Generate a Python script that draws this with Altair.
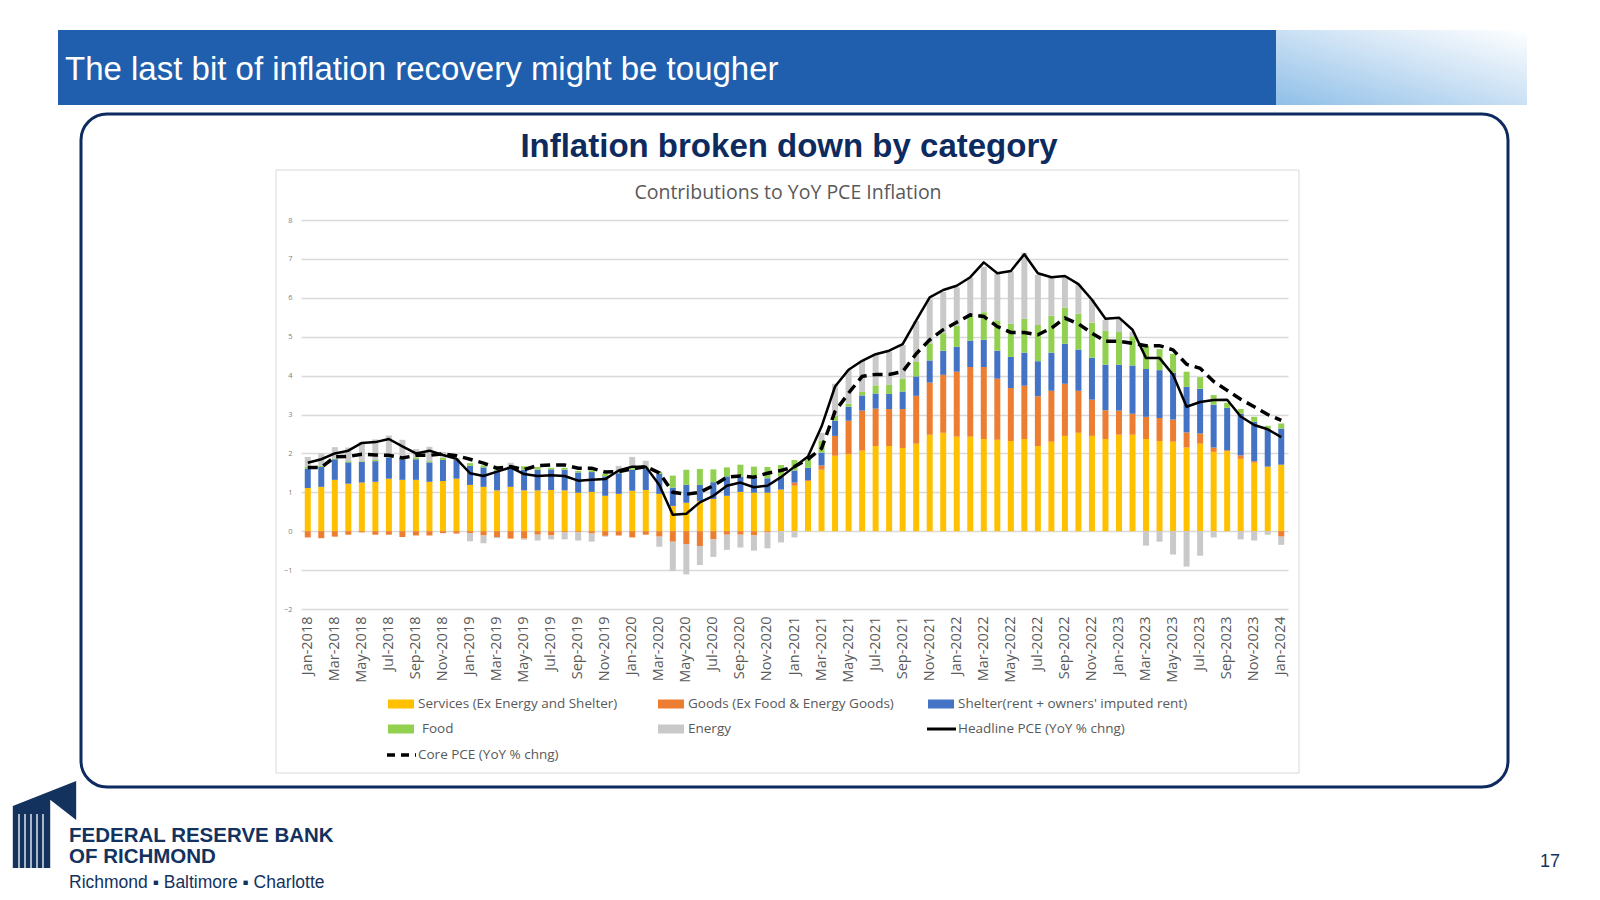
import altair as alt
import pandas as pd

# ---------------------------------------------------------------- data
MON = ["Jan", "Feb", "Mar", "Apr", "May", "Jun",
       "Jul", "Aug", "Sep", "Oct", "Nov", "Dec"]
months = [f"{m}-{y}" for y in range(2018, 2024) for m in MON] + ["Jan-2024"]

services = [
    1.11, 1.14, 1.32, 1.22, 1.25, 1.27, 1.35, 1.32, 1.32, 1.27, 1.29, 1.35,
    1.19, 1.14, 1.05, 1.14, 1.05, 1.05, 1.06, 1.05, 0.99, 1.01, 0.91, 0.96,
    1.04, 1.06, 0.96, 0.65, 0.73, 0.78, 0.83, 0.91, 1.01, 0.99, 0.99, 1.07,
    1.17, 1.29, 1.58, 1.94, 1.98, 2.07, 2.19, 2.19, 2.14, 2.25, 2.48, 2.53,
    2.43, 2.43, 2.37, 2.35, 2.32, 2.37, 2.19, 2.30, 2.45, 2.53, 2.45, 2.37,
    2.48, 2.48, 2.37, 2.32, 2.30, 2.15, 2.25, 2.04, 2.06, 1.86, 1.76, 1.66,
    1.71]
goods = [
    -0.16, -0.18, -0.14, -0.09, -0.03, -0.09, -0.09, -0.15, -0.11, -0.11, -0.05, -0.06,
    -0.05, -0.11, -0.15, -0.19, -0.19, -0.09, -0.11, -0.03, -0.03, -0.06, -0.12, -0.11,
    -0.16, -0.09, -0.14, -0.27, -0.33, -0.38, -0.21, -0.09, -0.09, -0.11, -0.03, 0.00,
    0.08, 0.02, 0.11, 0.51, 0.86, 1.03, 0.96, 0.95, 1.00, 1.23, 1.34, 1.49,
    1.67, 1.79, 1.85, 1.57, 1.36, 1.37, 1.28, 1.31, 1.34, 1.08, 0.93, 0.74,
    0.62, 0.54, 0.57, 0.59, 0.57, 0.39, 0.26, 0.11, 0.02, 0.09, 0.04, 0.00,
    -0.14]
shelter = [
    0.50, 0.51, 0.53, 0.55, 0.53, 0.53, 0.55, 0.53, 0.53, 0.50, 0.54, 0.49,
    0.49, 0.50, 0.51, 0.52, 0.53, 0.53, 0.53, 0.53, 0.52, 0.51, 0.50, 0.53,
    0.54, 0.56, 0.51, 0.47, 0.46, 0.41, 0.43, 0.50, 0.39, 0.37, 0.37, 0.33,
    0.31, 0.32, 0.33, 0.39, 0.36, 0.39, 0.39, 0.39, 0.45, 0.50, 0.57, 0.62,
    0.64, 0.68, 0.70, 0.72, 0.80, 0.85, 0.90, 0.98, 1.03, 1.06, 1.08, 1.17,
    1.18, 1.24, 1.23, 1.23, 1.20, 1.17, 1.15, 1.10, 1.09, 1.07, 1.01, 0.96,
    0.93]
food = [
    0.05, 0.03, 0.02, 0.03, 0.02, 0.03, 0.03, 0.03, 0.05, 0.03, 0.06, 0.03,
    0.07, 0.05, 0.12, 0.03, 0.09, 0.07, 0.04, 0.05, 0.04, 0.05, 0.07, 0.02,
    0.04, 0.04, 0.06, 0.31, 0.39, 0.41, 0.33, 0.23, 0.31, 0.30, 0.29, 0.30,
    0.27, 0.22, 0.31, 0.13, 0.08, 0.09, 0.21, 0.23, 0.33, 0.37, 0.44, 0.45,
    0.54, 0.63, 0.71, 0.78, 0.85, 0.87, 0.93, 0.95, 0.93, 0.92, 0.90, 0.87,
    0.84, 0.75, 0.60, 0.54, 0.49, 0.39, 0.30, 0.25, 0.13, 0.12, 0.13, 0.09,
    0.13]
energy = [
    0.25, 0.32, 0.29, 0.35, 0.49, 0.53, 0.53, 0.47, 0.21, 0.37, 0.15, 0.02,
    -0.21, -0.20, -0.03, 0.07, -0.03, -0.15, -0.10, -0.18, -0.21, -0.21, -0.02, 0.17,
    0.29, 0.15, -0.26, -0.75, -0.78, -0.49, -0.45, -0.39, -0.33, -0.39, -0.41, -0.29,
    -0.16, 0.00, 0.20, 0.82, 0.87, 0.80, 0.80, 0.86, 0.87, 1.05, 1.13, 1.06,
    0.99, 0.99, 1.17, 1.20, 1.35, 1.70, 1.29, 0.97, 0.80, 0.75, 0.59, 0.28,
    0.32, 0.12, -0.37, -0.27, -0.60, -0.91, -0.63, -0.16, 0.00, -0.21, -0.24, -0.09,
    -0.21]
headline = [
    1.76, 1.85, 2.00, 2.07, 2.27, 2.29, 2.37, 2.18, 2.00, 2.07, 1.96, 1.86,
    1.49, 1.42, 1.53, 1.64, 1.47, 1.42, 1.44, 1.42, 1.30, 1.32, 1.34, 1.56,
    1.66, 1.66, 1.19, 0.42, 0.45, 0.74, 0.91, 1.17, 1.25, 1.13, 1.17, 1.39,
    1.66, 1.92, 2.69, 3.72, 4.15, 4.38, 4.55, 4.64, 4.81, 5.42, 6.01, 6.20,
    6.31, 6.53, 6.91, 6.63, 6.69, 7.12, 6.63, 6.53, 6.56, 6.35, 5.95, 5.46,
    5.49, 5.18, 4.45, 4.45, 4.02, 3.20, 3.32, 3.37, 3.38, 2.95, 2.73, 2.62,
    2.42]
core = [
    1.64, 1.64, 1.91, 1.92, 1.98, 1.96, 1.95, 1.88, 1.95, 1.95, 1.99, 1.94,
    1.85, 1.75, 1.62, 1.66, 1.58, 1.69, 1.70, 1.70, 1.62, 1.62, 1.52, 1.53,
    1.60, 1.66, 1.50, 1.00, 0.95, 1.00, 1.17, 1.39, 1.42, 1.39, 1.49, 1.56,
    1.66, 1.85, 2.13, 3.08, 3.55, 3.98, 4.03, 4.03, 4.10, 4.56, 4.92, 5.18,
    5.37, 5.56, 5.52, 5.26, 5.11, 5.11, 5.05, 5.22, 5.48, 5.33, 5.09, 4.88,
    4.88, 4.83, 4.77, 4.77, 4.66, 4.29, 4.19, 3.85, 3.62, 3.39, 3.20, 3.00,
    2.85]

series_names = [
    "Services (Ex Energy and Shelter)",
    "Goods (Ex Food & Energy Goods)",
    "Shelter(rent + owners' imputed rent)",
    "Food",
    "Energy",
]
series_values = [services, goods, shelter, food, energy]
series_colors = ["#FFC000", "#ED7D31", "#4472C4", "#92D050", "#C9C9C9"]
line_names = ["Headline PCE (YoY % chng)", "Core PCE (YoY % chng)"]
y_ticks = list(range(-2, 9))

bars = pd.DataFrame([
    {"month": m, "series": name, "order": k, "value": vals[i]}
    for k, (name, vals) in enumerate(zip(series_names, series_values))
    for i, m in enumerate(months)
])
lines = pd.DataFrame({"month": months, "headline": headline, "core": core})

# ---------------------------------------------------------------- page geometry
L, T = 301, 220            # plot area origin on the page
W, H = 987, 389            # plot area size
PAGE_W, PAGE_H = 1600, 900
NAVY = "#0D2B5E"
GREY_TXT = "#595959"


def px(x):
    return x - L


def py(y):
    return y - T


one = pd.DataFrame({"k": [0]})


def box(x0, y0, x1, y1, **kw):
    return alt.Chart(one).mark_rect(**kw).encode(
        x=alt.value(px(x0)), x2=alt.value(px(x1)),
        y=alt.value(py(y0)), y2=alt.value(py(y1)))


def label(text, x, y, **kw):
    kw.setdefault("baseline", "middle")
    return alt.Chart(one).mark_text(text=text, **kw).encode(
        x=alt.value(px(x)), y=alt.value(py(y)))


# ---------------------------------------------------------------- slide furniture
banner = box(58, 30, 1276, 105, color="#1F5FAD")
banner_art = box(1276, 30, 1527, 105, color=alt.Gradient(
    gradient="linear", x1=0, y1=1, x2=1, y2=0,
    stops=[alt.GradientStop(offset=0, color="#8FBFE8"),
           alt.GradientStop(offset=0.55, color="#CFE3F5"),
           alt.GradientStop(offset=1, color="#FFFFFF")]))
slide_title = label("The last bit of inflation recovery might be tougher", 65, 70,
                    align="left", font="Liberation Sans", fontSize=33, color="white")
panel = box(81, 114, 1508, 787, filled=False, stroke=NAVY, strokeWidth=3,
            cornerRadius=26)
heading = label("Inflation broken down by category", 789, 147, align="center",
                font="Liberation Sans", fontSize=33, fontWeight="bold", color=NAVY)
frame = box(276, 170, 1299, 773, filled=False, stroke="#D9D9D9", strokeWidth=1)
chart_title = label("Contributions to YoY PCE Inflation", 788, 193, align="center",
                    font="Open Sans", fontSize=19.5, color=GREY_TXT)

# ---------------------------------------------------------------- plot
x_scale = alt.Scale(domain=months, paddingInner=0, paddingOuter=0)
y_scale = alt.Scale(domain=[-2, 8], nice=False, zero=False)
x_axis = alt.Axis(values=months[::2], labelAngle=270, labelFont="Open Sans",
                  labelFontSize=14.5, labelColor=GREY_TXT, labelPadding=7,
                  labelOverlap=False, domain=False, ticks=False, grid=False,
                  title=None)
y_axis = alt.Axis(values=y_ticks, labelFont="Open Sans", labelFontSize=7.5,
                  labelColor="#7F7F7F", labelPadding=9, domain=False,
                  ticks=False, grid=True, gridColor="#D9D9D9", gridWidth=1.4,
                  title=None)

x_enc = alt.X("month:N", scale=x_scale, axis=x_axis, bandPosition=0.5)

stack = alt.Chart(bars).mark_bar(width=6).encode(
    x=x_enc,
    y=alt.Y("value:Q", stack="zero", scale=y_scale, axis=y_axis),
    color=alt.Color("series:N", legend=None,
                    scale=alt.Scale(domain=series_names, range=series_colors)),
    order=alt.Order("order:Q"),
)
headline_line = alt.Chart(lines).mark_line(
    color="black", strokeWidth=2.5, strokeJoin="round").encode(
    x=x_enc, y=alt.Y("headline:Q", scale=y_scale, axis=y_axis))
core_line = alt.Chart(lines).mark_line(
    color="black", strokeWidth=3.5, strokeDash=[10, 6]).encode(
    x=x_enc, y=alt.Y("core:Q", scale=y_scale, axis=y_axis))

# ---------------------------------------------------------------- legend
legend_cols = [388, 658, 928]
legend_rows = [704, 729, 755]
legend_items = [
    (series_names[0], "box", series_colors[0], 0, 0, 0),
    (series_names[1], "box", series_colors[1], 1, 0, 0),
    (series_names[2], "box", series_colors[2], 2, 0, 0),
    (series_names[3], "box", series_colors[3], 0, 1, 4),
    (series_names[4], "box", series_colors[4], 1, 1, 0),
    (line_names[0], "solid", "black", 2, 1, 0),
    (line_names[1], "dash", "black", 0, 2, 0),
]
legend_layers = []
for text, kind, col, c, r, indent in legend_items:
    x0, y0 = legend_cols[c], legend_rows[r]
    if kind == "box":
        legend_layers.append(box(x0, y0 - 4.5, x0 + 26, y0 + 4.5, color=col))
    else:
        legend_layers.append(
            alt.Chart(one).mark_rule(
                color=col, strokeWidth=3 if kind == "solid" else 3.5,
                strokeDash=[0] if kind == "solid" else [8, 6]).encode(
                x=alt.value(px(x0 - 1)), x2=alt.value(px(x0 + 28)),
                y=alt.value(py(y0))))
    legend_layers.append(label(text, x0 + 30 + indent, y0, align="left",
                               font="Open Sans", fontSize=13.5, color=GREY_TXT))

# ---------------------------------------------------------------- footer logo
ICON = 88
icon_path = ("M -0.72 -0.42 L 0.72 -0.99 L 0.72 -0.10 L 0.13 -0.56 "
             "L 0.13 0.99 L -0.72 0.99 Z")
icon = alt.Chart(one).mark_point(shape=icon_path, size=ICON * ICON, filled=True,
                                 color="#13325E", opacity=1).encode(
    x=alt.value(px(44.5)), y=alt.value(py(824.5)))
stripes = [
    alt.Chart(one).mark_rule(color="white", strokeWidth=1.3).encode(
        x=alt.value(px(sx)), y=alt.value(py(814)), y2=alt.value(py(869)))
    for sx in [19, 25, 31, 37, 43]
]
logo_text = [
    label("FEDERAL RESERVE BANK", 69, 836, align="left", font="Liberation Sans",
          fontSize=20.5, fontWeight="bold", color="#13325E"),
    label("OF RICHMOND", 69, 857, align="left", font="Liberation Sans",
          fontSize=20.5, fontWeight="bold", color="#13325E"),
    label("Richmond \u25aa Baltimore \u25aa Charlotte", 69, 883, align="left",
          font="Liberation Sans", fontSize=17.5, color="#13325E"),
    label("17", 1550, 862, align="center", font="Liberation Sans", fontSize=18,
          color="#13325E"),
]

chart = alt.layer(
    banner, banner_art, slide_title, panel, heading, frame, chart_title,
    stack, headline_line, core_line,
    *legend_layers, icon, *stripes, *logo_text,
).properties(
    width=W, height=H,
    autosize=alt.AutoSizeParams(type="none"),
    padding={"left": L, "top": T, "right": PAGE_W - L - W, "bottom": PAGE_H - T - H},
).configure(background="white").configure_view(strokeWidth=0)

chart.save("out.html", embed_options={"renderer": "svg", "actions": False})
